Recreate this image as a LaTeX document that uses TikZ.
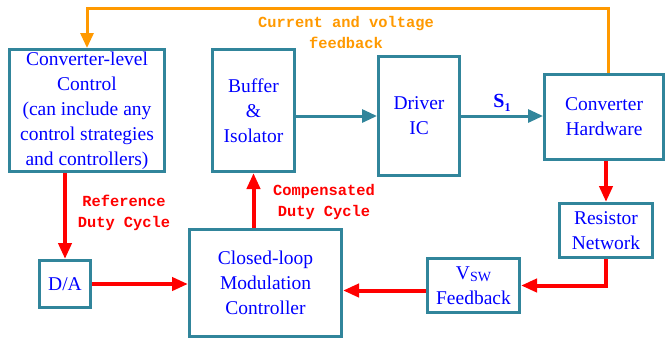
\documentclass[tikz,border=0pt]{standalone}
\usepackage{fontspec}
\setmainfont{Liberation Serif}
\newfontfamily\monofont{Liberation Mono}
\usetikzlibrary{arrows.meta}
\definecolor{boxteal}{RGB}{49,133,155}
\definecolor{fbkorange}{RGB}{255,153,0}
\tikzset{
	block/.style={draw=boxteal, line width=3pt, text=blue, align=center, inner sep=0pt,
		font=\fontsize{19.5}{25}\selectfont},
	ctl/.style={draw=boxteal, line width=3pt, -{Triangle[length=15pt,width=13pt]}},
	sig/.style={draw=red, line width=4pt, -{Triangle[length=16pt,width=13pt]}},
	fbk/.style={draw=fbkorange, line width=3pt, -{Triangle[length=15pt,width=13pt]}},
	note/.style={align=center, font=\monofont\bfseries\fontsize{15.4}{21}\selectfont},
}
\begin{document}
\begin{tikzpicture}[x=1pt, y=-1pt]
	\useasboundingbox (0,0) rectangle (666,341);
	\node[block, minimum width=155, minimum height=122] (ctrl) at (87,110.5)
		{Converter-level\\Control\\(can include any\\control strategies\\and controllers)};
	\node[block, minimum width=82, minimum height=122] (buf) at (253.5,110.5) {Buffer\\\&\\Isolator};
	\node[block, minimum width=81, minimum height=119] (drv) at (419,116) {Driver\\IC};
	\node[block, minimum width=119, minimum height=85] (hw) at (604,117) {Converter\\Hardware};
	\node[block, minimum width=51, minimum height=47] (da) at (65,284) {D/A};
	\node[block, minimum width=152, minimum height=107] (clc) at (265.5,283)
		{Closed-loop\\Modulation\\Controller};
	\node[block, minimum width=93, minimum height=54] (rn) at (606,230.5) {Resistor\\Network};
	\node[block, minimum width=92, minimum height=54] (vsw) at (473.5,285.5)
		{V{\fontsize{14}{14}\selectfont\raisebox{-0.3ex}{SW}}\\Feedback};
	\coordinate (top) at (0,8);
	\draw[fbk] ([xshift=4pt]hw.north) -- ([xshift=4pt]hw.north |- top) -| (ctrl.north);
	\node[note, text=fbkorange] (fbklbl) at (346,32) {Current and voltage\\feedback};
	\draw[sig] (da.north |- ctrl.south) -- (da.north);
	\node[note, text=red] (reflbl) at (124,213) {Reference\\Duty Cycle};
	\draw[sig] (da.east) -- (da.east -| clc.west);
	\draw[sig] (buf.south |- clc.north) -- (buf.south);
	\node[note, text=red] (cmplbl) at (324,202) {Compensated\\Duty Cycle};
	\draw[ctl] (drv.west -| buf.east) -- (drv.west);
	\draw[ctl] (drv.east) -- (drv.east -| hw.west)
		node[midway, above=0pt, text=blue, font=\fontsize{20}{20}\selectfont\bfseries] (s1)
		{S\raisebox{-0.4ex}{\fontsize{12}{12}\selectfont 1}};
	\draw[sig] (rn.north |- hw.south) -- (rn.north);
	\draw[sig] (rn.south) |- (vsw.east);
	\draw[sig] ([yshift=-5pt]vsw.west) -- ([yshift=-5pt]vsw.west -| clc.east);
\end{tikzpicture}
\end{document}
